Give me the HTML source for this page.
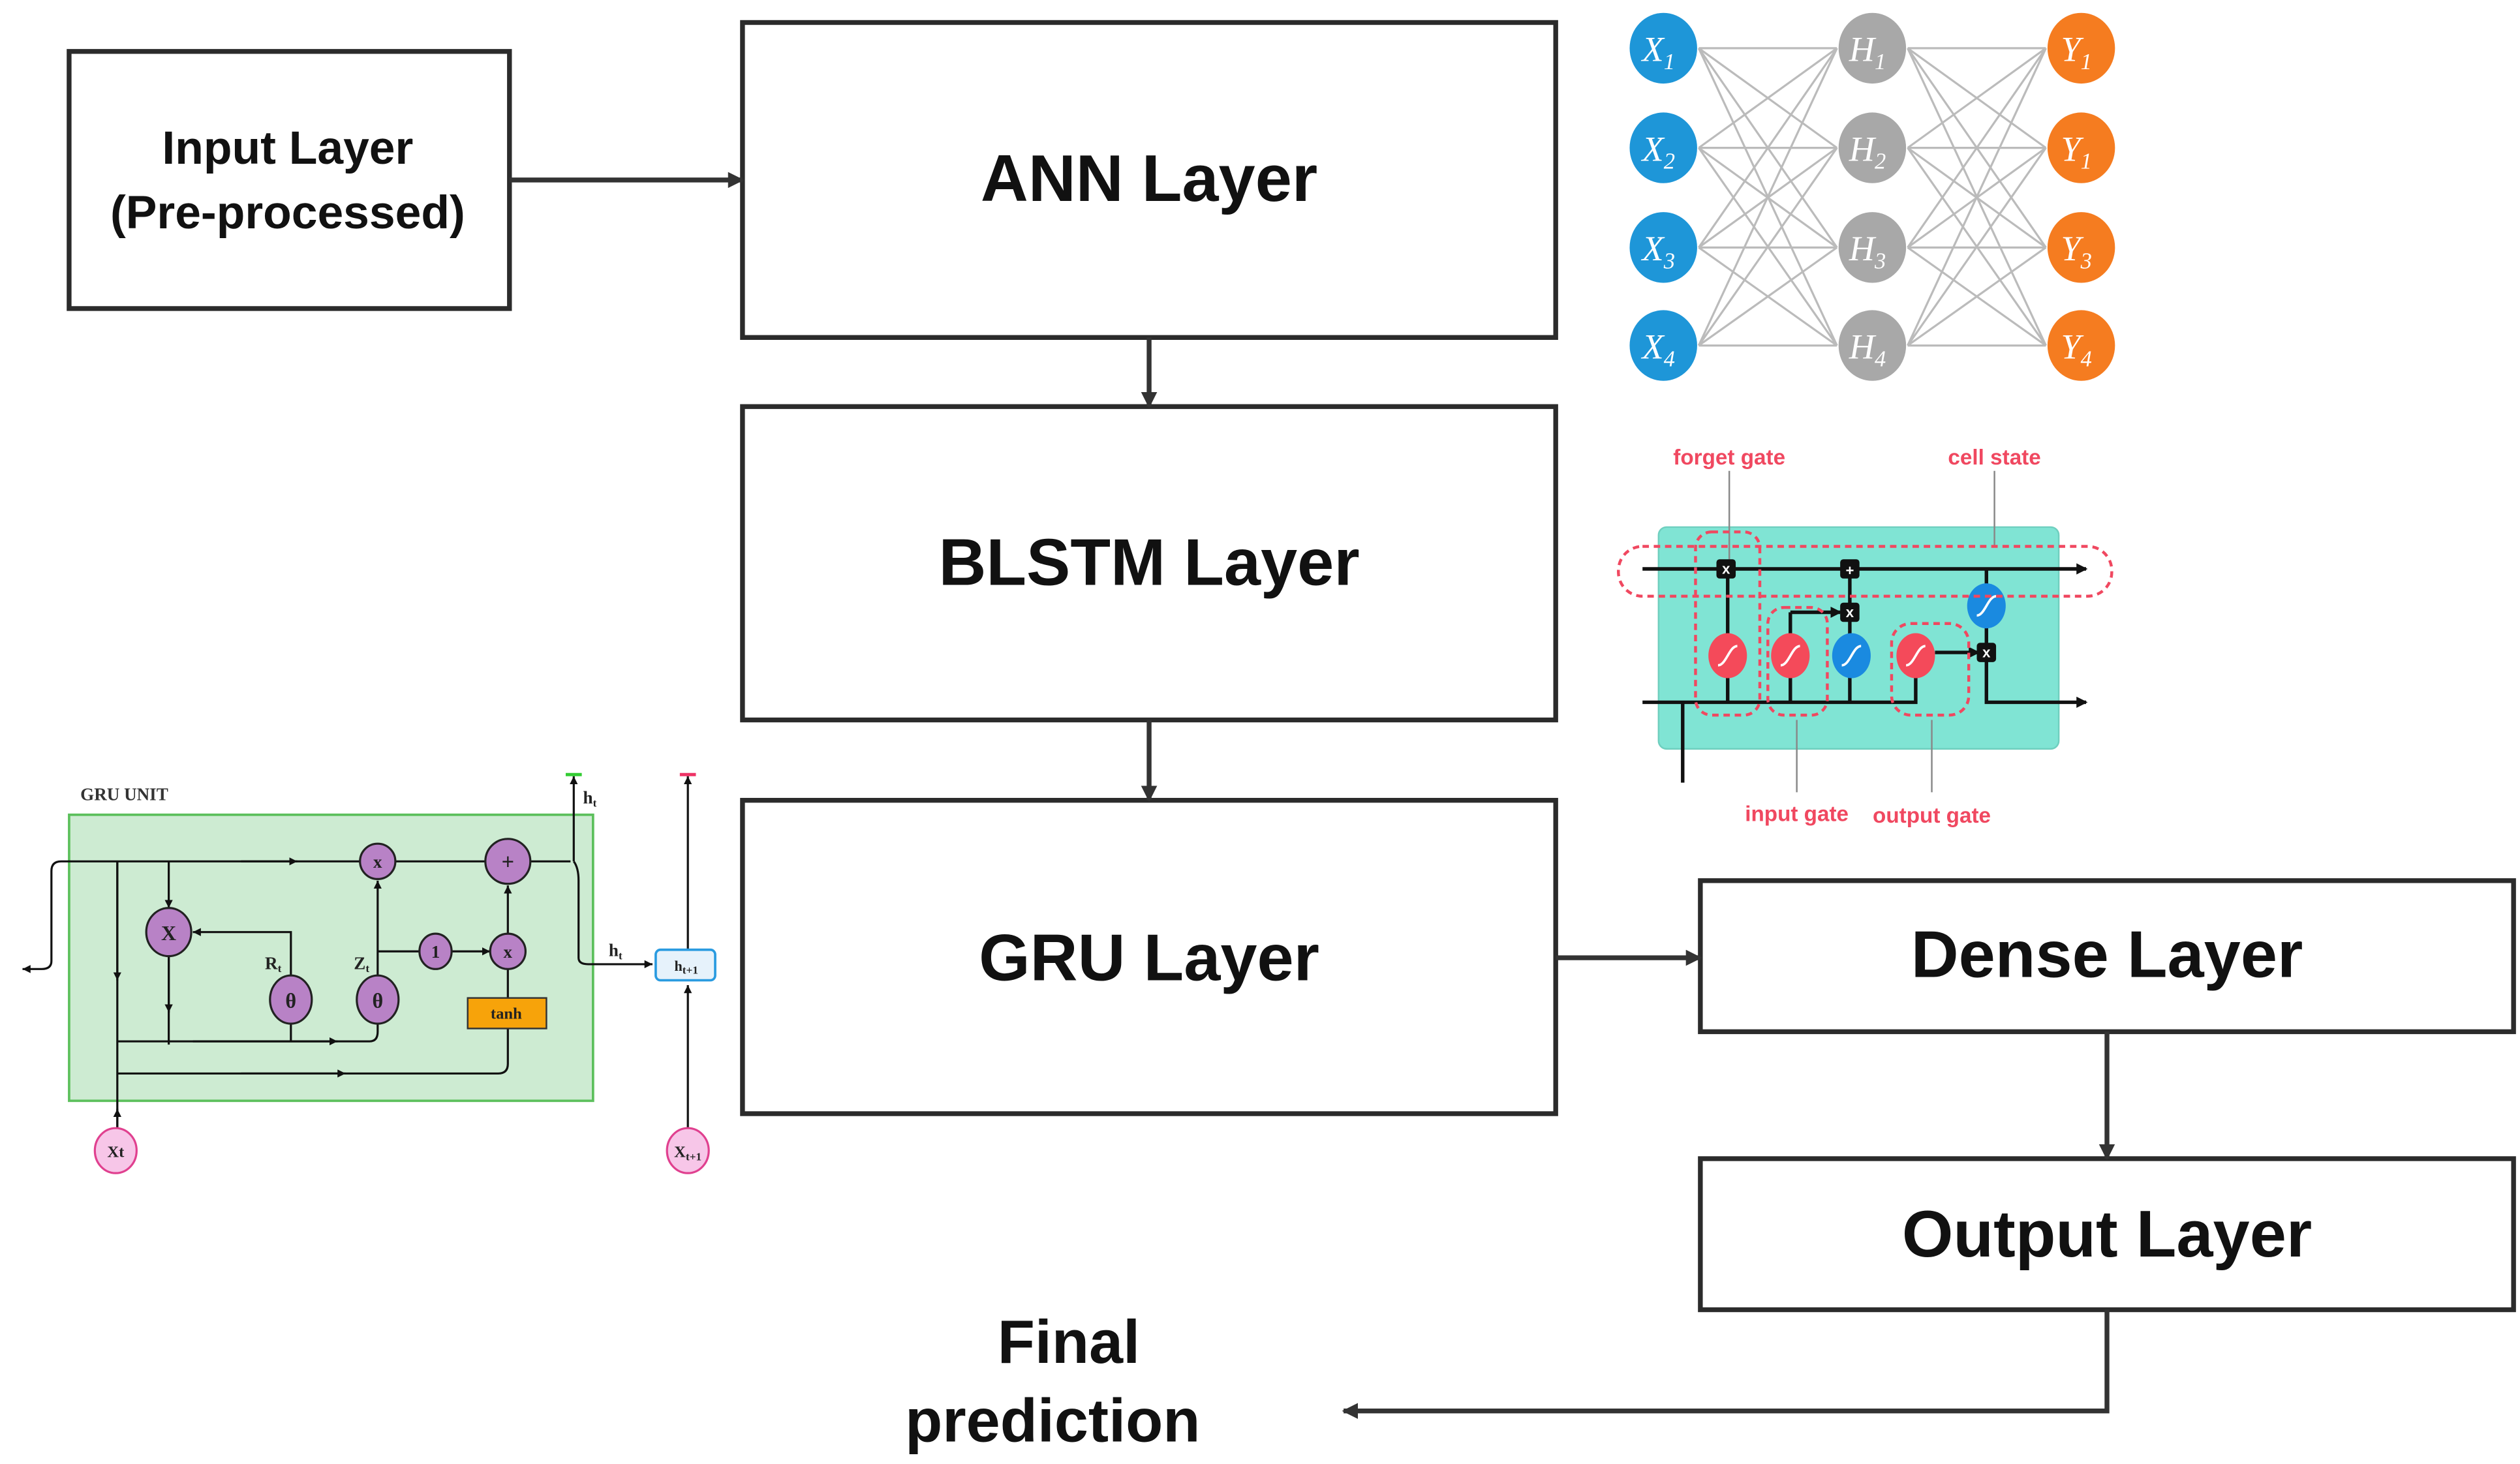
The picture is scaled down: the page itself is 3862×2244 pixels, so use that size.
<!DOCTYPE html>
<html><head><meta charset="utf-8"><style>
html,body{margin:0;padding:0;background:#fff;}
svg{display:block;}
svg text{font-family:"Liberation Sans",Arial,sans-serif;}
svg text.serif{font-family:"Liberation Serif",serif;}
</style></head><body>
<svg width="3862" height="2244" viewBox="0 0 1568 911" preserveAspectRatio="none" xmlns="http://www.w3.org/2000/svg">
<defs>
<marker id="ah" markerWidth="10" markerHeight="10" refX="9" refY="5" orient="auto" markerUnits="userSpaceOnUse"><path d="M0,0 L10,5 L0,10 Z" fill="#333"/></marker>
<marker id="sa" markerWidth="7" markerHeight="7" refX="6" refY="3.5" orient="auto" markerUnits="userSpaceOnUse"><path d="M0,0 L7,3.5 L0,7 Z" fill="#111"/></marker>
<marker id="ga" markerWidth="5" markerHeight="5" refX="5" refY="2.5" orient="auto" markerUnits="userSpaceOnUse"><path d="M0,0 L5,2.5 L0,5 Z" fill="#111"/></marker>
</defs>
<rect width="1568" height="911" fill="#fff"/>

<g fill="#fff" stroke="#2b2b2b" stroke-width="3">
<rect x="43" y="32" width="274" height="160"/>
<rect x="462" y="14" width="506" height="196"/>
<rect x="462" y="253" width="506" height="195"/>
<rect x="462" y="498" width="506" height="195"/>
<rect x="1058" y="548" width="506" height="94"/>
<rect x="1058" y="721" width="506" height="94"/>
</g>
<g font-weight="bold" fill="#111" text-anchor="middle">
<text x="179" y="102" font-size="29">Input Layer</text>
<text x="179" y="142" font-size="29">(Pre-processed)</text>
<text x="715" y="125" font-size="41">ANN Layer</text>
<text x="715" y="364" font-size="41">BLSTM Layer</text>
<text x="715" y="610" font-size="41">GRU Layer</text>
<text x="1311" y="608" font-size="41">Dense Layer</text>
<text x="1311" y="782" font-size="41">Output Layer</text>
<text x="665" y="848" font-size="38">Final</text>
<text x="655" y="897" font-size="38">prediction</text>
</g>
<g stroke="#333" stroke-width="3" fill="none">
<line x1="317" y1="112" x2="462" y2="112" marker-end="url(#ah)"/>
<line x1="715" y1="210" x2="715" y2="253" marker-end="url(#ah)"/>
<line x1="715" y1="448" x2="715" y2="498" marker-end="url(#ah)"/>
<line x1="968" y1="596" x2="1058" y2="596" marker-end="url(#ah)"/>
<line x1="1311" y1="642" x2="1311" y2="721" marker-end="url(#ah)"/>
<polyline points="1311,815 1311,878 836,878" marker-end="url(#ah)"/>
</g>

<g stroke="#bbb" stroke-width="1.3">
<line x1="1057" y1="30" x2="1143" y2="30"/><line x1="1057" y1="30" x2="1143" y2="92"/><line x1="1057" y1="30" x2="1143" y2="154"/><line x1="1057" y1="30" x2="1143" y2="215"/>
<line x1="1057" y1="92" x2="1143" y2="30"/><line x1="1057" y1="92" x2="1143" y2="92"/><line x1="1057" y1="92" x2="1143" y2="154"/><line x1="1057" y1="92" x2="1143" y2="215"/>
<line x1="1057" y1="154" x2="1143" y2="30"/><line x1="1057" y1="154" x2="1143" y2="92"/><line x1="1057" y1="154" x2="1143" y2="154"/><line x1="1057" y1="154" x2="1143" y2="215"/>
<line x1="1057" y1="215" x2="1143" y2="30"/><line x1="1057" y1="215" x2="1143" y2="92"/><line x1="1057" y1="215" x2="1143" y2="154"/><line x1="1057" y1="215" x2="1143" y2="215"/>
<line x1="1187" y1="30" x2="1273" y2="30"/><line x1="1187" y1="30" x2="1273" y2="92"/><line x1="1187" y1="30" x2="1273" y2="154"/><line x1="1187" y1="30" x2="1273" y2="215"/>
<line x1="1187" y1="92" x2="1273" y2="30"/><line x1="1187" y1="92" x2="1273" y2="92"/><line x1="1187" y1="92" x2="1273" y2="154"/><line x1="1187" y1="92" x2="1273" y2="215"/>
<line x1="1187" y1="154" x2="1273" y2="30"/><line x1="1187" y1="154" x2="1273" y2="92"/><line x1="1187" y1="154" x2="1273" y2="154"/><line x1="1187" y1="154" x2="1273" y2="215"/>
<line x1="1187" y1="215" x2="1273" y2="30"/><line x1="1187" y1="215" x2="1273" y2="92"/><line x1="1187" y1="215" x2="1273" y2="154"/><line x1="1187" y1="215" x2="1273" y2="215"/>
</g>
<g fill="#1e96d8"><ellipse cx="1035" cy="30" rx="21" ry="22"/><ellipse cx="1035" cy="92" rx="21" ry="22"/><ellipse cx="1035" cy="154" rx="21" ry="22"/><ellipse cx="1035" cy="215" rx="21" ry="22"/></g>
<g fill="#a8a8a8"><ellipse cx="1165" cy="30" rx="21" ry="22"/><ellipse cx="1165" cy="92" rx="21" ry="22"/><ellipse cx="1165" cy="154" rx="21" ry="22"/><ellipse cx="1165" cy="215" rx="21" ry="22"/></g>
<g fill="#f57c20"><ellipse cx="1295" cy="30" rx="21" ry="22"/><ellipse cx="1295" cy="92" rx="21" ry="22"/><ellipse cx="1295" cy="154" rx="21" ry="22"/><ellipse cx="1295" cy="215" rx="21" ry="22"/></g>
<g fill="#fff" font-style="italic" font-size="22" text-anchor="middle">
<text class="serif" x="1032" y="38">X<tspan font-size="14" dy="5">1</tspan></text>
<text class="serif" x="1032" y="100">X<tspan font-size="14" dy="5">2</tspan></text>
<text class="serif" x="1032" y="162">X<tspan font-size="14" dy="5">3</tspan></text>
<text class="serif" x="1032" y="223">X<tspan font-size="14" dy="5">4</tspan></text>
<text class="serif" x="1162" y="38">H<tspan font-size="14" dy="5">1</tspan></text>
<text class="serif" x="1162" y="100">H<tspan font-size="14" dy="5">2</tspan></text>
<text class="serif" x="1162" y="162">H<tspan font-size="14" dy="5">3</tspan></text>
<text class="serif" x="1162" y="223">H<tspan font-size="14" dy="5">4</tspan></text>
<text class="serif" x="1292" y="38">Y<tspan font-size="14" dy="5">1</tspan></text>
<text class="serif" x="1292" y="100">Y<tspan font-size="14" dy="5">1</tspan></text>
<text class="serif" x="1292" y="162">Y<tspan font-size="14" dy="5">3</tspan></text>
<text class="serif" x="1292" y="223">Y<tspan font-size="14" dy="5">4</tspan></text>
</g>

<rect x="1032" y="328" width="249" height="138" rx="5" fill="#80e4d4" stroke="#6fcfbf" stroke-width="1"/>
<g stroke="#888" stroke-width="1"><line x1="1076" y1="293" x2="1076" y2="348"/><line x1="1241" y1="293" x2="1241" y2="340"/><line x1="1118" y1="448" x2="1118" y2="493"/><line x1="1202" y1="448" x2="1202" y2="493"/></g>
<g stroke="#111" stroke-width="2.2" fill="none">
<line x1="1022" y1="354" x2="1298" y2="354" marker-end="url(#sa)"/>
<polyline points="1022,437 1192,437 1192,408"/>
<polyline points="1236,354 1236,437 1298,437" marker-end="url(#sa)"/>
<line x1="1047" y1="437" x2="1047" y2="487"/>
<line x1="1075" y1="354" x2="1075" y2="437"/>
<line x1="1114" y1="437" x2="1114" y2="381"/>
<polyline points="1114,381 1145,381" marker-end="url(#sa)"/>
<line x1="1151" y1="354" x2="1151" y2="437"/>
<line x1="1204" y1="406" x2="1231" y2="406" marker-end="url(#sa)"/>
</g>
<g fill="#f44a5a"><ellipse cx="1075" cy="408" rx="12" ry="14"/><ellipse cx="1114" cy="408" rx="12" ry="14"/><ellipse cx="1192" cy="408" rx="12" ry="14"/></g>
<g fill="#1a8ae0"><ellipse cx="1152" cy="408" rx="12" ry="14"/><ellipse cx="1236" cy="377" rx="12" ry="14"/></g>
<g stroke="#fff" stroke-width="1.5" fill="none">
<path d="M1069,414 C1074,414 1076,402 1081,402"/><path d="M1108,414 C1113,414 1115,402 1120,402"/><path d="M1186,414 C1191,414 1193,402 1198,402"/><path d="M1146,414 C1151,414 1153,402 1158,402"/><path d="M1230,383 C1235,383 1237,371 1242,371"/>
</g>
<g fill="#111"><rect x="1068" y="348" width="12" height="12" rx="2"/><rect x="1145" y="348" width="12" height="12" rx="2"/><rect x="1145" y="375" width="12" height="12" rx="2"/><rect x="1230" y="400" width="12" height="12" rx="2"/></g>
<g fill="#fff" font-size="9" font-weight="bold" text-anchor="middle"><text x="1074" y="357">x</text><text x="1151" y="358">+</text><text x="1151" y="384">x</text><text x="1236" y="409">x</text></g>
<g fill="none" stroke="#f04860" stroke-width="1.8" stroke-dasharray="4,3">
<rect x="1007" y="340" width="307" height="31" rx="15"/>
<rect x="1055" y="331" width="40" height="114" rx="10"/>
<rect x="1100" y="378" width="37" height="67" rx="10"/>
<rect x="1177" y="388" width="48" height="57" rx="12"/>
</g>
<g fill="#f04860" font-size="13.5" font-weight="bold" text-anchor="middle">
<text x="1076" y="289">forget gate</text><text x="1241" y="289">cell state</text><text x="1118" y="511">input gate</text><text x="1202" y="512">output gate</text>
</g>

<text class="serif" x="50" y="498" font-size="11" font-weight="bold" fill="#333">GRU UNIT</text>
<rect x="43" y="507" width="326" height="178" fill="#cdebd2" stroke="#5cc05c" stroke-width="1.5"/>
<g stroke="#111" stroke-width="1.3" fill="none">
<path d="M355,536 L38,536 Q32,536 32,542 L32,598 Q32,603 26,603 L14,603" marker-end="url(#ga)"/>
<line x1="150" y1="536" x2="185" y2="536" marker-end="url(#ga)"/>
<line x1="73" y1="703" x2="73" y2="536"/>
<line x1="73" y1="536" x2="73" y2="610" marker-end="url(#ga)"/>
<line x1="105" y1="536" x2="105" y2="565" marker-end="url(#ga)"/>
<line x1="105" y1="594" x2="105" y2="650"/>
<line x1="105" y1="594" x2="105" y2="630" marker-end="url(#ga)"/>
<path d="M181,608 L181,580 L120,580" marker-end="url(#ga)"/>
<path d="M73,648 L230,648 Q235,648 235,642 L235,637"/>
<line x1="120" y1="648" x2="210" y2="648" marker-end="url(#ga)"/>
<line x1="181" y1="637" x2="181" y2="648"/>
<line x1="235" y1="608" x2="235" y2="548" marker-end="url(#ga)"/>
<path d="M235,592 L261,592"/>
<line x1="281" y1="592" x2="305" y2="592" marker-end="url(#ga)"/>
<line x1="316" y1="581" x2="316" y2="551" marker-end="url(#ga)"/>
<line x1="316" y1="603" x2="316" y2="621"/>
<path d="M73,668 L310,668 Q316,668 316,662 L316,640"/>
<line x1="150" y1="668" x2="215" y2="668" marker-end="url(#ga)"/>
<path d="M357,536 L357,483" marker-end="url(#ga)"/>
<path d="M357,536 Q360,540 360,548 L360,596 Q360,600 366,600 L406,600" marker-end="url(#ga)"/>
<line x1="428" y1="703" x2="428" y2="613" marker-end="url(#ga)"/>
<line x1="428" y1="591" x2="428" y2="483" marker-end="url(#ga)"/>
<line x1="73" y1="703" x2="73" y2="690" marker-end="url(#ga)"/>
</g>
<line x1="352" y1="482" x2="362" y2="482" stroke="#3c3" stroke-width="2"/>
<line x1="423" y1="482" x2="433" y2="482" stroke="#e36" stroke-width="2"/>
<g fill="#b882c6" stroke="#222" stroke-width="1.3">
<ellipse cx="105" cy="580" rx="14" ry="15"/>
<ellipse cx="235" cy="536" rx="11" ry="11"/>
<ellipse cx="316" cy="536" rx="14" ry="14"/>
<ellipse cx="181" cy="622" rx="13" ry="15"/>
<ellipse cx="235" cy="622" rx="13" ry="15"/>
<ellipse cx="271" cy="592" rx="10" ry="11"/>
<ellipse cx="316" cy="592" rx="11" ry="11"/>
</g>
<rect x="291" y="621" width="49" height="19" fill="#f7a30a" stroke="#333" stroke-width="1"/>
<rect x="408" y="591" width="37" height="19" rx="3" fill="#e6f2fb" stroke="#2a9be0" stroke-width="1.5"/>
<g fill="#f7c6e8" stroke="#e0408f" stroke-width="1.3"><ellipse cx="72" cy="716" rx="13" ry="14"/><ellipse cx="428" cy="716" rx="13" ry="14"/></g>
<g font-size="11" fill="#222" text-anchor="middle" font-weight="bold">
<text class="serif" x="105" y="585" font-size="13">X</text><text class="serif" x="235" y="540">x</text><text class="serif" x="316" y="541" font-size="14">+</text>
<text class="serif" x="181" y="627" font-size="13">θ</text><text class="serif" x="235" y="627" font-size="13">θ</text><text class="serif" x="271" y="596">1</text><text class="serif" x="316" y="596">x</text>
<text class="serif" x="315" y="634" font-size="10">tanh</text><text class="serif" x="427" y="604" font-size="9">h<tspan font-size="7" dy="2">t+1</tspan></text>
<text class="serif" x="72" y="720" font-size="10">Xt</text><text class="serif" x="428" y="720" font-size="10">X<tspan font-size="7" dy="2">t+1</tspan></text>
<text class="serif" x="170" y="603">R<tspan font-size="7" dy="2">t</tspan></text><text class="serif" x="225" y="603">Z<tspan font-size="7" dy="2">t</tspan></text>
<text class="serif" x="367" y="500">h<tspan font-size="7" dy="2">t</tspan></text><text class="serif" x="383" y="595">h<tspan font-size="7" dy="2">t</tspan></text>
</g>
</svg>
</body></html>
